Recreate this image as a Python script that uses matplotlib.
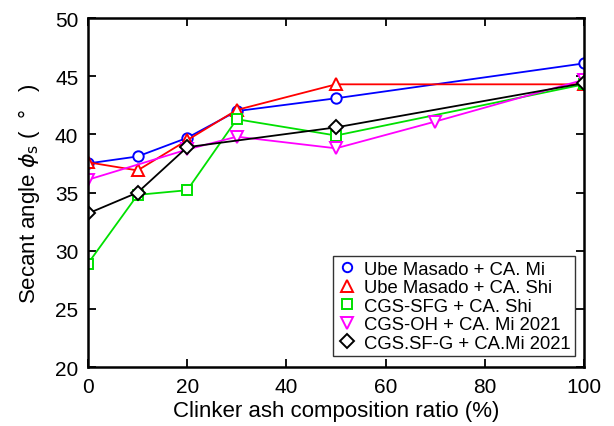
import numpy as np
import matplotlib.pyplot as plt

plt.rcParams['font.family'] = ['Liberation Sans', 'DejaVu Sans']

# data
x_ube_mi = [0, 10, 20, 30, 50, 100]
y_ube_mi = [37.5, 38.1, 39.7, 42.0, 43.1, 46.1]

x_ube_shi = [0, 10, 20, 30, 50, 100]
y_ube_shi = [37.6, 36.9, 39.5, 42.1, 44.3, 44.3]

x_sfg = [0, 10, 20, 30, 50, 100]
y_sfg = [28.9, 34.8, 35.2, 41.3, 39.9, 44.3]

x_oh = [0, 20, 30, 50, 70, 100]
y_oh = [36.1, 38.7, 39.8, 38.8, 41.1, 44.7]

x_sf_g = [0, 10, 20, 50, 100]
y_sf_g = [33.2, 35.0, 38.9, 40.6, 44.4]

series = [
    (x_ube_mi, y_ube_mi, 'o', 'blue', 'Ube Masado + CA. Mi', 7.5),
    (x_ube_shi, y_ube_shi, '^', 'red', 'Ube Masado + CA. Shi', 9),
    (x_sfg, y_sfg, 's', '#00e000', 'CGS-SFG + CA. Shi', 7.5),
    (x_oh, y_oh, 'v', 'magenta', 'CGS-OH + CA. Mi 2021', 9),
    (x_sf_g, y_sf_g, 'D', 'black', 'CGS.SF-G + CA.Mi 2021', 7.5),
]

fig = plt.figure(figsize=(6.14, 4.27), dpi=100)
ax = fig.add_axes([0.1433, 0.138, 0.808, 0.8175])

for xs, ys, mk, col, lab, ms in series:
    ax.plot(xs, ys, color=col, lw=1.3)
    ax.plot(xs, ys, ls='none', marker=mk, ms=ms, mfc='white', mec=col,
            mew=1.4, label=lab)

ax.set_xlim(0, 100)
ax.set_ylim(20, 50)
ax.set_xticks(np.arange(0, 101, 20))
ax.set_yticks(np.arange(20, 51, 5))
ax.tick_params(direction='in', top=True, right=True, length=6, width=1.3,
               labelsize=15, pad=7)
for sp in ax.spines.values():
    sp.set_linewidth(1.8)

ax.set_xlabel('Clinker ash composition ratio (%)', fontsize=16, labelpad=3)
ax.set_ylabel(r'Secant angle $\phi_{\mathrm{s}}$ (  °   )', fontsize=16, labelpad=9)

leg = ax.legend(loc='lower right', bbox_to_anchor=(0.982, 0.031), fontsize=13.3,
                frameon=True, fancybox=False, handletextpad=0.4,
                borderpad=0.25, labelspacing=0.08, handlelength=1.0,
                borderaxespad=0, markerscale=0.9)
leg.get_frame().set_edgecolor('black')
leg.get_frame().set_linewidth(1.0)

fig.savefig('out.png', dpi=100)
